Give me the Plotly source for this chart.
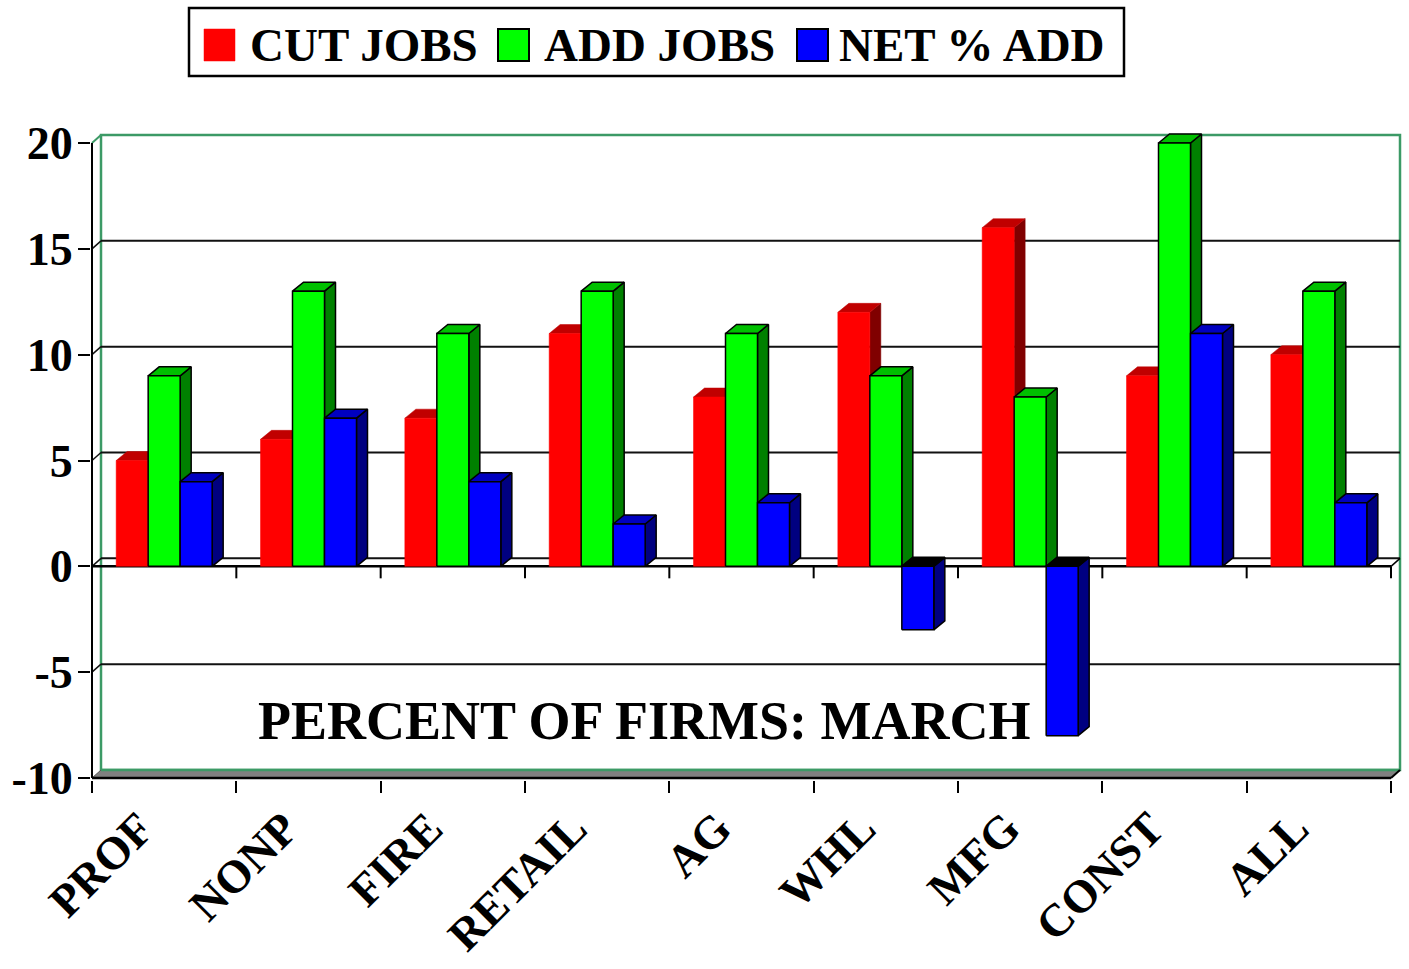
import plotly.graph_objects as go

# ---------------- data ----------------
categories = ["PROF", "NONP", "FIRE", "RETAIL", "AG", "WHL", "MFG", "CONST", "ALL"]
cut_jobs = [5, 6, 7, 11, 8, 12, 16, 9, 10]
add_jobs = [9, 13, 11, 13, 11, 9, 8, 20, 13]
net_add = [4, 7, 4, 2, 3, -3, -8, 11, 3]
series_names = ["CUT JOBS", "ADD JOBS", "NET % ADD"]
y_ticks = [-10, -5, 0, 5, 10, 15, 20]
chart_title = "PERCENT OF FIRMS: MARCH"

# ---------------- layout geometry ----------------
W, H = 1409, 969
XPX = 1299 / 9          # pixels per category
YPX = 635 / 30          # pixels per y unit
ML, MR, MT, MB = 91, 0, 125, 189
X_LEFT_PX, Y_ZERO10_PX = 92, 778
XR = [-0.5 - (X_LEFT_PX - ML) / XPX, -0.5 + (W - MR - X_LEFT_PX) / XPX]
YR = [-10 - (H - MB - Y_ZERO10_PX) / YPX, -10 + (Y_ZERO10_PX - MT) / YPX]
PW, PH = W - ML - MR, H - MT - MB


def dx(px):
    return px / XPX


def dy(px):
    return px / YPX


def px2paper_x(px):
    return (px - ML) / PW


def px2paper_y(py):
    return (H - MB - py) / PH


FONT = "Liberation Serif, Times New Roman, serif"
WALL_GREEN = "#3c9a66"
BW = dx(32)            # bar width
BDX, BDY = dx(11), dy(9)   # bar depth
WDX, WDY = dx(9), dy(8)    # wall depth
XMIN, XMAX = -0.5, len(categories) - 0.5
YMIN, YMAX = y_ticks[0], y_ticks[-1]

styles = [
    dict(front="#ff0000", top="#c00000", side="#800000", line=None),
    dict(front="#00ff00", top="#00c000", side="#008000", line="black"),
    dict(front="#0000ff", top="#0000c0", side="#000080", line="black"),
]

fig = go.Figure()


def add_faces(polys, fill, line_color, lw):
    X, Y = [], []
    for xs, ys in polys:
        X += list(xs) + [xs[0], None]
        Y += list(ys) + [ys[0], None]
    if not X:
        return
    fig.add_trace(go.Scatter(
        x=X, y=Y, mode="lines", fill="toself", fillcolor=fill,
        line=dict(color=line_color if line_color else fill, width=lw if line_color else 0.5),
        hoverinfo="skip", showlegend=False))


series = [cut_jobs, add_jobs, net_add]
for s, vals in enumerate(series):
    st = styles[s]
    sides, tops, tops_neg, fronts = [], [], [], []
    for i, v in enumerate(vals):
        xl = i - 1.5 * BW + s * BW
        xr = xl + BW
        top = max(v, 0)
        bot = min(v, 0)
        sides.append(([xr, xr + BDX, xr + BDX, xr], [bot, bot + BDY, top + BDY, top]))
        tp = ([xl, xr, xr + BDX, xl + BDX], [top, top, top + BDY, top + BDY])
        (tops if v >= 0 else tops_neg).append(tp)
        fronts.append(([xl, xr, xr, xl], [bot, bot, top, top]))
    add_faces(sides, st["side"], st["line"], 1.5)
    add_faces(tops, st["top"], st["line"], 1.5)
    add_faces(tops_neg, "#000000", "black", 1.5)
    add_faces(fronts, st["front"], st["line"], 1.5)

# ---------------- walls, floor, grid (shapes below traces) ----------------
shapes = []
# back wall
shapes.append(dict(type="rect", layer="below", xref="x", yref="y",
                   x0=XMIN + WDX, x1=XMAX + WDX, y0=YMIN + WDY, y1=YMAX + WDY,
                   line=dict(color=WALL_GREEN, width=2.5), fillcolor="white"))
# gridlines on back wall and left diagonals
for v in y_ticks[1:-1]:
    shapes.append(dict(type="line", layer="below", xref="x", yref="y",
                       x0=XMIN + WDX, x1=XMAX + WDX, y0=v + WDY, y1=v + WDY,
                       line=dict(color="#111111", width=2)))
    shapes.append(dict(type="line", layer="below", xref="x", yref="y",
                       x0=XMIN, x1=XMIN + WDX, y0=v, y1=v + WDY,
                       line=dict(color="#111111", width=1.5)))
# top-left diagonal (green)
shapes.append(dict(type="line", layer="below", xref="x", yref="y",
                   x0=XMIN, x1=XMIN + WDX, y0=YMAX, y1=YMAX + WDY,
                   line=dict(color=WALL_GREEN, width=2)))
# zero floor front line and right diagonal
shapes.append(dict(type="line", layer="below", xref="x", yref="y",
                   x0=XMIN, x1=XMAX, y0=0, y1=0, line=dict(color="black", width=2.5)))
shapes.append(dict(type="line", layer="below", xref="x", yref="y",
                   x0=XMAX, x1=XMAX + WDX, y0=0, y1=WDY, line=dict(color="black", width=1.5)))
# ticks under the zero line
for k in range(len(categories) + 1):
    b = XMIN + k
    shapes.append(dict(type="line", layer="below", xref="x", yref="y",
                       x0=b, x1=b, y0=0, y1=-dy(12), line=dict(color="black", width=2)))
# bottom gray floor
shapes.append(dict(type="path", layer="below", xref="x", yref="y",
                   path=f"M{XMIN},{YMIN} L{XMAX},{YMIN} L{XMAX + WDX},{YMIN + WDY} L{XMIN + WDX},{YMIN + WDY} Z",
                   fillcolor="#808080", line=dict(color="#555555", width=1)))
shapes.append(dict(type="line", layer="below", xref="x", yref="y",
                   x0=XMIN + WDX, x1=XMAX + WDX, y0=YMIN + WDY, y1=YMIN + WDY,
                   line=dict(color=WALL_GREEN, width=2.5)))
shapes.append(dict(type="line", layer="above", xref="x", yref="y",
                   x0=XMIN, x1=XMAX, y0=YMIN, y1=YMIN, line=dict(color="black", width=2.5)))
shapes.append(dict(type="line", layer="above", xref="x", yref="y",
                   x0=XMAX, x1=XMAX + WDX, y0=YMIN, y1=YMIN + WDY, line=dict(color="black", width=2)))
# front y axis line
shapes.append(dict(type="line", layer="above", xref="x", yref="y",
                   x0=XMIN, x1=XMIN, y0=YMIN, y1=YMAX, line=dict(color="black", width=2)))

# ---------------- manual legend ----------------
LEG_BOX = (189, 8, 1124, 76)
shapes.append(dict(type="rect", xref="paper", yref="paper",
                   x0=px2paper_x(LEG_BOX[0]), x1=px2paper_x(LEG_BOX[2]),
                   y0=px2paper_y(LEG_BOX[3]), y1=px2paper_y(LEG_BOX[1]),
                   line=dict(color="black", width=2.5), fillcolor="white"))
leg_sq_x = [204, 498, 797]
leg_txt_x = [248, 542, 837]
annotations = []
for s, name in enumerate(series_names):
    st = styles[s]
    shapes.append(dict(type="rect", xref="paper", yref="paper",
                       x0=px2paper_x(leg_sq_x[s]), x1=px2paper_x(leg_sq_x[s] + 31),
                       y0=px2paper_y(61), y1=px2paper_y(29),
                       fillcolor=st["front"],
                       line=dict(color=st["line"] or st["front"], width=2 if st["line"] else 0.5)))
    annotations.append(dict(text=name, xref="paper", yref="paper",
                            x=px2paper_x(leg_txt_x[s]), y=px2paper_y(45),
                            xanchor="left", yanchor="middle", showarrow=False,
                            font=dict(family=FONT, size=47, color="black", weight="bold")))

annotations.append(dict(text=chart_title, xref="x", yref="y",
                        x=XMIN + dx(644 - X_LEFT_PX), y=-7.29,
                        xanchor="center", yanchor="middle", showarrow=False,
                        font=dict(family=FONT, size=54, color="black", weight="bold")))

fig.update_layout(
    width=W, height=H,
    margin=dict(l=ML, r=MR, t=MT, b=MB, pad=0),
    paper_bgcolor="white", plot_bgcolor="white",
    showlegend=False,
    shapes=shapes, annotations=annotations,
    xaxis=dict(range=XR, showgrid=False, zeroline=False, showline=False, automargin=False,
               tickmode="array", tickvals=list(range(len(categories))), ticktext=categories,
               ticks="", tickangle=-45, ticklabelshift=-24, ticklabelstandoff=11,
               tickfont=dict(family=FONT, size=46, color="black", weight="bold"),
               minor=dict(ticks="outside", tick0=XMIN, dtick=1, ticklen=12,
                          tickwidth=2, tickcolor="black", showgrid=False),
               fixedrange=True),
    yaxis=dict(range=YR, showgrid=False, zeroline=False, showline=False, automargin=False,
               tickmode="array", tickvals=y_ticks, ticktext=[str(v) for v in y_ticks],
               ticks="outside", ticklen=12, tickwidth=2, tickcolor="black",
               ticklabelstandoff=-4,
               tickfont=dict(family=FONT, size=46, color="black", weight="bold"),
               fixedrange=True),
)

fig.write_html("out.html", config={"displayModeBar": False},
               post_script="document.body.style.margin='0px';")
